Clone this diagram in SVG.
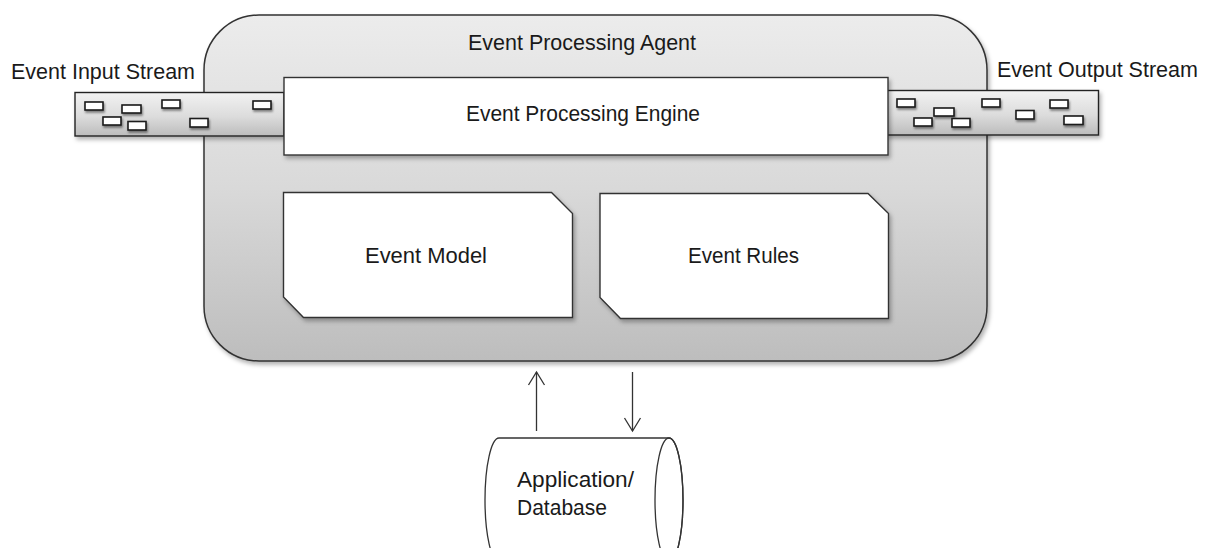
<svg xmlns="http://www.w3.org/2000/svg" width="1209" height="548" viewBox="0 0 1209 548">
<defs>
<linearGradient id="gAgent" x1="0" y1="0" x2="0" y2="1">
<stop offset="0" stop-color="#ececec"/>
<stop offset="0.5" stop-color="#d9d9d9"/>
<stop offset="1" stop-color="#bdbdbd"/>
</linearGradient>
<linearGradient id="gStream" x1="0" y1="0" x2="0" y2="1">
<stop offset="0" stop-color="#f2f2f2"/>
<stop offset="0.55" stop-color="#dcdcdc"/>
<stop offset="1" stop-color="#bcbcbc"/>
</linearGradient>
<filter id="sh" x="-10%" y="-20%" width="130%" height="150%">
<feDropShadow dx="2" dy="3" stdDeviation="2" flood-color="#000" flood-opacity="0.3"/>
</filter>
<filter id="shs" x="-30%" y="-50%" width="170%" height="250%">
<feDropShadow dx="1" dy="2" stdDeviation="1.2" flood-color="#000" flood-opacity="0.45"/>
</filter>
<marker id="arr" viewBox="0 0 20 20" refX="16" refY="10" markerWidth="20" markerHeight="20" markerUnits="userSpaceOnUse" orient="auto">
<path d="M3,2 L16,10 L3,18" fill="none" stroke="#333" stroke-width="1.3"/>
</marker>
</defs>
<style>
text{font-family:"Liberation Sans",Arial,sans-serif;font-size:22px;fill:#1a1a1a}
.box{fill:#fff;stroke:#333;stroke-width:1.4}
.tok{fill:#fff;stroke:#1a1a1a;stroke-width:1.6;filter:url(#shs)}
.stream{fill:url(#gStream);stroke:#222;stroke-width:1.4;filter:url(#sh)}
.line{stroke:#333;stroke-width:1.3;fill:none}
</style>

<g id="agent">
<rect x="204" y="15" width="783" height="346" rx="55" ry="55" fill="url(#gAgent)" stroke="#333" stroke-width="1.5" filter="url(#sh)"/>
<text x="468" y="50" textLength="228" lengthAdjust="spacingAndGlyphs">Event Processing Agent</text>
</g>

<g id="input-stream">
<rect class="stream" x="75" y="92.5" width="209" height="43.5"/>
<rect class="tok" x="85" y="102" width="18" height="8"/>
<rect class="tok" x="122" y="105" width="19" height="8"/>
<rect class="tok" x="162" y="100" width="18" height="8"/>
<rect class="tok" x="253" y="101" width="18" height="8"/>
<rect class="tok" x="103" y="117" width="18" height="8"/>
<rect class="tok" x="128" y="121.5" width="18" height="8.5"/>
<rect class="tok" x="190" y="118.5" width="18" height="8.5"/>
<text x="11" y="79" textLength="184" lengthAdjust="spacingAndGlyphs">Event Input Stream</text>
</g>

<g id="output-stream">
<rect class="stream" x="886" y="90.5" width="212.5" height="44.5"/>
<rect class="tok" x="897" y="99" width="18" height="8"/>
<rect class="tok" x="914" y="118" width="18" height="8"/>
<rect class="tok" x="934" y="108" width="20" height="8"/>
<rect class="tok" x="952" y="118.5" width="18" height="8.5"/>
<rect class="tok" x="982" y="99" width="18" height="8"/>
<rect class="tok" x="1016" y="110.5" width="18" height="8.5"/>
<rect class="tok" x="1050" y="100" width="18" height="8"/>
<rect class="tok" x="1064" y="116" width="19" height="8.5"/>
<text x="997" y="77" textLength="201" lengthAdjust="spacingAndGlyphs">Event Output Stream</text>
</g>

<g id="engine">
<rect class="box" x="284" y="77.5" width="604" height="77.5" filter="url(#sh)"/>
<text x="466" y="121" textLength="234" lengthAdjust="spacingAndGlyphs">Event Processing Engine</text>
</g>

<g id="event-model">
<path class="box" d="M283.5,192.5 L551.5,192.5 L572.5,213.5 L572.5,317.5 L303.5,317.5 L283.5,297 Z" filter="url(#sh)"/>
<text x="365" y="263" textLength="122" lengthAdjust="spacingAndGlyphs">Event Model</text>
</g>

<g id="event-rules">
<path class="box" d="M600,193.5 L868,193.5 L888.5,213.5 L888.5,318.5 L620.5,318.5 L600,297.5 Z" filter="url(#sh)"/>
<text x="688" y="263" textLength="111" lengthAdjust="spacingAndGlyphs">Event Rules</text>
</g>

<g id="database">
<path d="M499,438 L669,438 A14,62 0 0 1 669,562 L499,562 A14,62 0 0 1 499,438 Z" fill="#fff" stroke="#333" stroke-width="1.3"/>
<ellipse cx="669" cy="500" rx="14" ry="62" fill="none" stroke="#333" stroke-width="1.3"/>
<text x="517" y="487" textLength="117" lengthAdjust="spacingAndGlyphs">Application/</text>
<text x="517" y="515" textLength="90" lengthAdjust="spacingAndGlyphs">Database</text>
</g>

<g id="connectors">
<line class="line" x1="536.5" y1="431" x2="536.5" y2="372" marker-end="url(#arr)"/>
<line class="line" x1="632.5" y1="372" x2="632.5" y2="431" marker-end="url(#arr)"/>
</g>
</svg>
